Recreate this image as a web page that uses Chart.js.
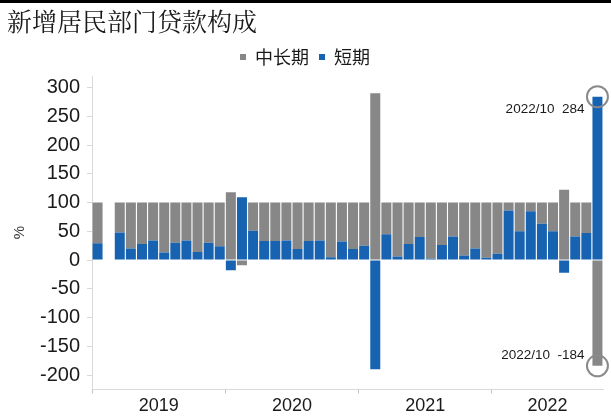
<!DOCTYPE html>
<html>
<head>
<meta charset="utf-8">
<script src="https://cdn.jsdelivr.net/npm/chart.js@4.4.1/dist/chart.umd.min.js"></script>
<style>
  html, body { margin: 0; padding: 0; background: #fff; }
  .wrap { position: relative; width: 611px; height: 419px; }
  .topline { position: absolute; left: 0; top: 0; width: 611px; height: 3px; background: #000; }
</style>
</head>
<body>
<div class="wrap">
  <canvas id="loanChart" width="611" height="419"></canvas>
  <div class="topline"></div>
</div>
<script>
const months = [
  '2019/01', '2019/02', '2019/03', '2019/04', '2019/05', '2019/06', '2019/07', '2019/08', '2019/09', '2019/10', '2019/11', '2019/12',
  '2020/01', '2020/02', '2020/03', '2020/04', '2020/05', '2020/06', '2020/07', '2020/08', '2020/09', '2020/10', '2020/11', '2020/12',
  '2021/01', '2021/02', '2021/03', '2021/04', '2021/05', '2021/06', '2021/07', '2021/08', '2021/09', '2021/10', '2021/11', '2021/12',
  '2022/01', '2022/02', '2022/03', '2022/04', '2022/05', '2022/06', '2022/07', '2022/08', '2022/09', '2022/10'
];
// 短期贷款占比 (%)
const shortTerm = [
  29, null, 48, 20, 28, 34, 13, 30, 34, 14, 30, 24,
  -18, 109, 51, 33, 33, 34, 19, 33, 34, 5, 32, 19,
  25, -190, 45, 6, 28, 40, 2, 26, 41, 8, 20, 4,
  11, 86, 50, 85, 63, 50, -22, 41, 47, 284
];
// 中长期贷款占比 (%)
const longTerm = [
  71, null, 52, 80, 72, 66, 87, 70, 66, 86, 70, 76,
  118, -9, 49, 67, 67, 66, 81, 67, 66, 95, 68, 81,
  75, 290, 55, 94, 72, 60, 98, 74, 59, 92, 80, 96,
  89, 14, 50, 15, 37, 50, 122, 59, 53, -184
];
const years = ['2019', '2020', '2021', '2022'];

const GREY = '#878787';
const BLUE = '#1763b2';
const numFont = "'Liberation Sans', Arial, sans-serif";
const cjkFont = "'Noto Serif CJK SC', 'Noto Sans CJK SC', sans-serif";

// year label sits under the middle month of each year
const yearAt = {};
years.forEach(yr => {
  const idx = [];
  months.forEach((m, i) => { if (m.startsWith(yr)) idx.push(i); });
  yearAt[idx[Math.floor((idx.length - 1) / 2)]] = yr;
});

// circle + label on the latest month
const lastCallout = {
  id: 'lastCallout',
  afterDatasetsDraw(chart) {
    const { ctx, scales: { x, y } } = chart;
    const i = months.length - 1;
    const px = x.getPixelForValue(i);
    ctx.save();
    ctx.font = '13.5px ' + numFont;
    ctx.textAlign = 'right';
    ctx.textBaseline = 'middle';
    [shortTerm[i], longTerm[i]].forEach(v => {
      const py = y.getPixelForValue(v);
      ctx.beginPath();
      ctx.arc(px, py, 10.5, 0, Math.PI * 2);
      ctx.strokeStyle = '#8a8a8a';
      ctx.lineWidth = 2;
      ctx.stroke();
      ctx.fillStyle = '#1a1a1a';
      ctx.fillText(months[i] + '  ' + v, px - 13, v >= 0 ? py + 13 : py - 11);
    });
    ctx.restore();
  }
};

new Chart(document.getElementById('loanChart'), {
  type: 'bar',
  data: {
    labels: months,
    datasets: [
      { label: '短期', data: shortTerm, backgroundColor: BLUE },
      { label: '中长期', data: longTerm, backgroundColor: GREY }
    ]
  },
  options: {
    responsive: false,
    animation: false,
    devicePixelRatio: 1,
    barPercentage: 0.9,
    categoryPercentage: 1,
    layout: { padding: { left: 7, right: 8, top: 0, bottom: 0 } },
    plugins: {
      tooltip: { enabled: false },
      title: {
        display: true,
        text: '新增居民部门贷款构成',
        align: 'start',
        color: '#1a1a1a',
        font: { family: cjkFont, size: 25, weight: 'normal', lineHeight: 1.2 },
        padding: { top: 6, bottom: 2 }
      },
      legend: {
        reverse: true,
        labels: {
          boxWidth: 6,
          boxHeight: 6,
          padding: 10,
          color: '#1a1a1a',
          font: { family: "'Noto Sans CJK SC', sans-serif", size: 18 }
        }
      }
    },
    scales: {
      x: {
        stacked: true,
        border: { color: '#d9d9d9' },
        grid: {
          drawOnChartArea: false,
          tickLength: 4,
          color: c => (c.index % 12 === 0 ? '#bfbfbf' : 'rgba(0,0,0,0)')
        },
        ticks: {
          autoSkip: false,
          maxRotation: 0,
          padding: 2,
          labelOffset: 5.55,
          color: '#1a1a1a',
          font: { family: numFont, size: 18 },
          callback: (v, i) => yearAt[i] || ''
        }
      },
      y: {
        stacked: true,
        min: -225,
        max: 320,
        afterFit(s) { s.width = 85; },
        border: { color: '#d9d9d9' },
        grid: { drawOnChartArea: false, tickLength: 5, color: '#d9d9d9' },
        ticks: {
          stepSize: 50,
          includeBounds: false,
          padding: 7,
          color: '#1a1a1a',
          font: { family: numFont, size: 20 }
        },
        title: {
          display: true,
          text: '%',
          color: '#333',
          padding: { top: 3.5 },
          font: { family: numFont, size: 15 }
        }
      }
    }
  },
  plugins: [lastCallout]
});
</script>
</body>
</html>
